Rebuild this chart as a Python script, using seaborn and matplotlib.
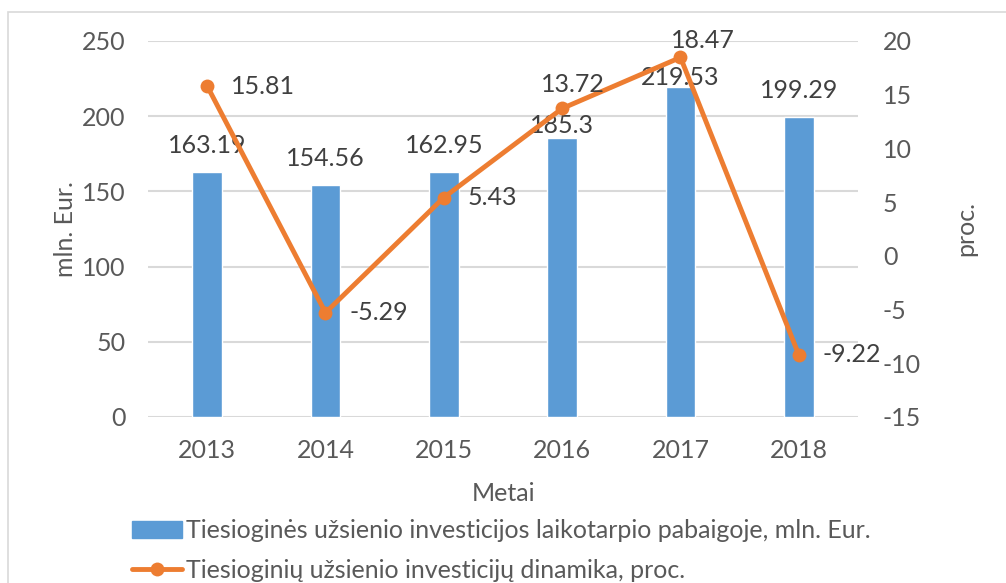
import matplotlib
matplotlib.use("Agg")
import matplotlib.pyplot as plt
import seaborn as sns
import pandas as pd
from matplotlib.patches import Rectangle, Patch
from matplotlib.lines import Line2D

# Data
years = ["2013", "2014", "2015", "2016", "2017", "2018"]
fdi_total = [163.19, 154.56, 162.95, 185.3, 219.53, 199.29]
fdi_change = [15.81, -5.29, 5.43, 13.72, 18.47, -9.22]

bar_label = "Tiesioginės užsienio investicijos laikotarpio pabaigoje, mln. Eur."
line_label = "Tiesioginių užsienio investicijų dinamika, proc."

# label offsets (points) - some labels were moved by hand in the original
bar_dy = [19, 19, 19, 9.5, 7, 19]
line_offsets = [(17, 0), (17, 0), (17, 0), (8, 17), (16, 12), (17, 0)]
line_ha = ["left", "left", "left", "center", "center", "left"]

blue = "#5B9BD5"
orange = "#ED7D31"
grey_text = "#595959"
grid_col = "#D9D9D9"
fs = 18

sns.set_theme(style="white")
plt.rcParams["font.family"] = ["Lato", "DejaVu Sans"]
plt.rcParams["font.size"] = fs
plt.rcParams["axes.unicode_minus"] = False
plt.rcParams["text.color"] = grey_text
plt.rcParams["axes.labelcolor"] = grey_text
plt.rcParams["xtick.color"] = grey_text
plt.rcParams["ytick.color"] = grey_text

df = pd.DataFrame({"Metai": years, "total": fdi_total, "change": fdi_change})

fig = plt.figure(figsize=(10.06, 5.83), dpi=100)
ax = fig.add_axes([148 / 1006, 1 - 417 / 583, 710 / 1006, 376 / 583])

sns.barplot(data=df, x="Metai", y="total", color=blue, width=0.25,
            saturation=1, ax=ax)
ax.set_ylim(0, 250)
ax.set_yticks(range(0, 251, 50))
ax.set_xlim(-0.5, 5.5)
ax.yaxis.grid(True, color=grid_col, lw=1.5)
ax.set_axisbelow(True)
for s in ax.spines.values():
    s.set_visible(False)
ax.tick_params(axis="both", length=0, labelsize=fs)
ax.tick_params(axis="x", pad=16)
ax.tick_params(axis="y", pad=16)
ax.set_xlabel("Metai", fontsize=fs, labelpad=14)
ax.set_ylabel("mln. Eur.", fontsize=fs)
ax.yaxis.set_label_coords(-0.1, 0.5)

for i, v in enumerate(fdi_total):
    ax.annotate(f"{v}", (i, v), xytext=(0, bar_dy[i]), textcoords="offset points",
                ha="center", va="center", fontsize=fs, color="#404040")

ax2 = ax.twinx()
sns.lineplot(x=list(range(len(years))), y=fdi_change, color=orange, lw=3.5,
             marker="o", markersize=10, markeredgewidth=0, ax=ax2)
ax2.set_ylim(-15, 20)
ax2.set_yticks(range(-15, 21, 5))
ax2.set_xlim(-0.5, 5.5)
for s in ax2.spines.values():
    s.set_visible(False)
ax2.tick_params(axis="y", length=0, labelsize=fs, pad=18)
ax2.set_ylabel("proc.", fontsize=fs, rotation=90)
ax2.yaxis.set_label_coords(1.135, 0.5)
ax2.grid(False)

for i, v in enumerate(fdi_change):
    ax2.annotate(f"{v}", (i, v), xytext=line_offsets[i], textcoords="offset points",
                 ha=line_ha[i], va="center", fontsize=fs, color="#404040")

handles = [Patch(facecolor=blue, edgecolor=blue),
           Line2D([0], [0], color=orange, lw=3.5, marker="o", markersize=10,
                  markeredgewidth=0)]
fig.legend(handles, [bar_label, line_label], loc="upper left",
           bbox_to_anchor=(122 / 1006, 1 - 509 / 583), frameon=False,
           fontsize=fs, handlelength=2.0, handletextpad=0.15, labelspacing=0.68,
           borderaxespad=0)

fig.patches.append(Rectangle((8 / 1006, -0.1), 1.2, 1.1 - 12 / 583,
                             transform=fig.transFigure, fill=False,
                             edgecolor=grid_col, lw=1.2))

fig.savefig("out.png", dpi=100)
